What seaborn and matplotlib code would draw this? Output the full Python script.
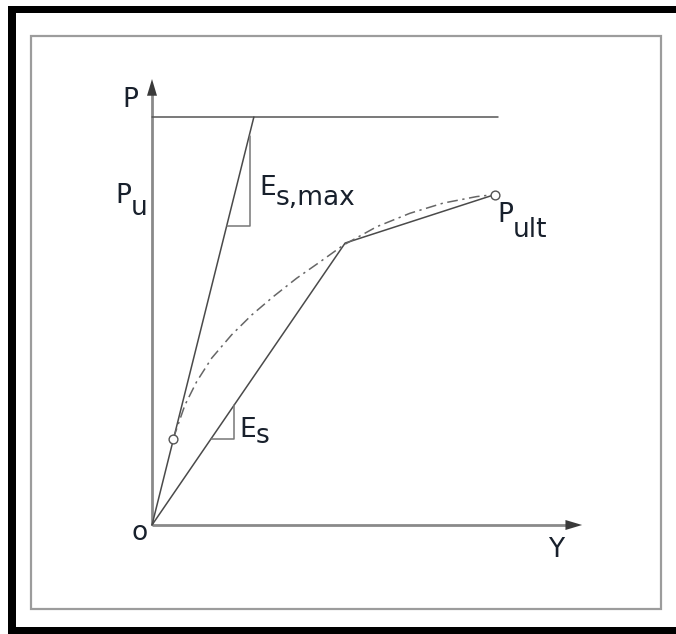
import matplotlib
matplotlib.use("Agg")
import matplotlib.pyplot as plt
from matplotlib.patches import Rectangle
import numpy as np
import pandas as pd
import seaborn as sns

# --- schematic p-y values (normalised: P / P_u, Y / Y_ult) ---
p_u = 1.0                      # plateau load P_u
y_pu_end = 1.01                # right end of the P_u line
es_max_y_at_pu = 0.297         # initial stiffness line reaches P_u here
break_pt = (0.563, 0.691)      # end of secant E_s segment
p_ult_pt = (1.0, 0.810)        # ultimate point P_ult
start_pt = (0.060, 0.212)      # first point of the nonlinear curve

# nonlinear p-y curve (dash-dot)
curve_y = [0.062, 0.096, 0.130, 0.174, 0.232, 0.291, 0.354, 0.422, 0.490,
           0.558, 0.655, 0.752, 0.849, 0.947, 1.000]
curve_p = [0.212, 0.294, 0.351, 0.409, 0.466, 0.515, 0.560, 0.605, 0.645,
           0.686, 0.731, 0.764, 0.789, 0.805, 0.810]

# axis extents (arrow tips)
x_axis_end = 1.254
y_axis_end = 1.093

# slope triangles: (x_left, x_right, y_bottom, y_top)
tri_es_max = (0.219, 0.285, 0.733, 0.954)
tri_es = (0.171, 0.240, 0.210, 0.295)

sns.set_theme(style="white")
plt.rcParams["font.family"] = ["DejaVu Sans"]

W, H = 676, 634
fig = plt.figure(figsize=(W / 100, H / 100), dpi=100)
fig.patch.set_facecolor("white")

# pixel <-> data mapping: origin at (152, 525) px, 343 px per Y unit, 408 px per P unit
ox, oy, sx, sy = 152, 525, 343.0, 408.0
ax = fig.add_axes([0, 0, 1, 1])
ax.set_xlim(-ox / sx, (W - ox) / sx)
ax.set_ylim(-(H - oy) / sy, oy / sy)
ax.axis("off")

# outer black border (left, top, bottom) and inner grey frame, in pixels
def px_rect(x0, y0, x1, y1, **kw):
    return Rectangle((x0 / W, 1 - y1 / H), (x1 - x0) / W, (y1 - y0) / H,
                     transform=fig.transFigure, **kw)

for r in [(8, 6, 16, 634), (8, 6, 676, 13), (8, 627, 676, 634)]:
    fig.patches.append(px_rect(*r, facecolor="black", edgecolor="none"))
fig.patches.append(px_rect(31, 36, 661, 609, facecolor="none",
                           edgecolor="#9c9c9c", linewidth=1.6))

line_c = "#4a4a4a"
grey_c = "#777777"
axis_c = "#8a8a8a"
text_c = "#18202c"

# axes with arrows
ax.plot([0, 0], [0, y_axis_end - 0.03], color=axis_c, lw=2, solid_capstyle="butt")
ax.plot([0, x_axis_end - 0.03], [0, 0], color=axis_c, lw=2, solid_capstyle="butt")
arrow_kw = dict(arrowstyle="-|>,head_length=1.0,head_width=0.3",
                mutation_scale=12, color="#3a3a3a", lw=0, shrinkA=0, shrinkB=0)
ax.annotate("", xy=(0, y_axis_end), xytext=(0, y_axis_end - 0.05), arrowprops=arrow_kw)
ax.annotate("", xy=(x_axis_end, 0), xytext=(x_axis_end - 0.05, 0), arrowprops=arrow_kw)

# P_u plateau
sns.lineplot(x=[0, y_pu_end], y=[p_u, p_u], ax=ax, color="#555555", lw=1.1)

# initial stiffness E_s,max
sns.lineplot(x=[0, es_max_y_at_pu], y=[0, p_u], ax=ax, color=line_c, lw=1.1,
             sort=False)

# bilinear secant path: origin -> break point -> P_ult
bil = pd.DataFrame({"Y": [0, break_pt[0], p_ult_pt[0]],
                    "P": [0, break_pt[1], p_ult_pt[1]]})
sns.lineplot(data=bil, x="Y", y="P", ax=ax, color=line_c, lw=1.1, sort=False)

# nonlinear curve
sns.lineplot(x=curve_y, y=curve_p, ax=ax, color="#666666", lw=1.1,
             linestyle=(0, (7, 3, 1.5, 3)), sort=False)

# slope triangles
for (xl, xr, yb, yt) in [tri_es_max, tri_es]:
    ax.plot([xl, xr, xr], [yb, yb, yt], color=grey_c, lw=1.1)

# hollow end markers
sns.scatterplot(x=[start_pt[0], p_ult_pt[0]], y=[start_pt[1], p_ult_pt[1]],
                ax=ax, s=40, facecolor="white", edgecolor="#555555",
                linewidth=1.0, zorder=5)

# labels (main letter + lowered subscript at the same size)
fs = 19

def px_text(x, y, s):
    ax.text((x - ox) / sx, (oy - y) / sy, s, fontsize=fs, color=text_c,
            ha="left", va="baseline")

px_text(122.5, 107, "P")
px_text(115.5, 203, "P")
px_text(131, 215, "u")
px_text(259.5, 195, "E")
px_text(275.5, 205, "s,max")
px_text(497.5, 222, "P")
px_text(513, 237, "ult")
px_text(239.5, 437, "E")
px_text(256, 443, "s")
px_text(131.5, 540, "o")
px_text(548, 557, "Y")

fig.savefig("out.png", dpi=100, facecolor="white")
